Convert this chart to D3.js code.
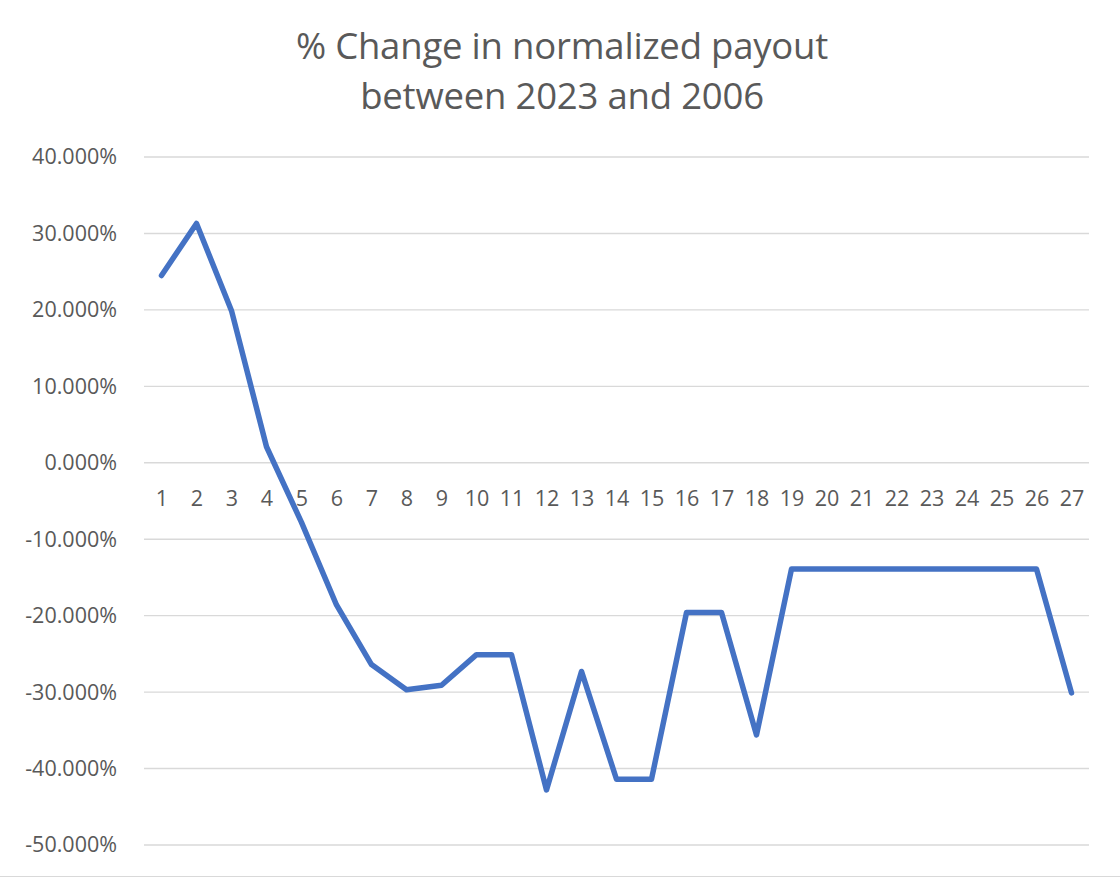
<!DOCTYPE html>
<html>
<head>
<meta charset="utf-8">
<script src="https://cdn.jsdelivr.net/npm/d3@7"></script>
<style>
  body { margin: 0; background: #fff; }
  text { font-family: "Open Sans", "Liberation Sans", sans-serif; fill: #595959; }
</style>
</head>
<body>
<svg id="chart"></svg>
<script>
const width = 1120;
const height = 878;

// data
const categories = d3.range(1, 28).map(String);
const pctChange = [
  24.5, 31.3, 19.9, 2.1, -7.8, -18.6, -26.4, -29.7, -29.1, -25.1,
  -25.1, -42.8, -27.3, -41.4, -41.4, -19.6, -19.6, -35.6, -13.9, -13.9,
  -13.9, -13.9, -13.9, -13.9, -13.9, -13.9, -30.1
];
const yTicks = [40, 30, 20, 10, 0, -10, -20, -30, -40, -50];
const titleLines = ['% Change in normalized payout', 'between 2023 and 2006'];

const plot = { left: 144, right: 1089, top: 157, bottom: 845 };

const svg = d3.select('#chart')
  .attr('width', width)
  .attr('height', height);

const x = d3.scalePoint()
  .domain(categories)
  .range([plot.left, plot.right])
  .padding(0.5);

const y = d3.scaleLinear()
  .domain([-50, 40])
  .range([plot.bottom, plot.top]);

// title
svg.append('g')
  .selectAll('text')
  .data(titleLines)
  .enter().append('text')
  .attr('x', width / 2 + 2)
  .attr('y', (d, i) => 59 + i * 50)
  .attr('text-anchor', 'middle')
  .style('font-size', '36.5px')
  .style('letter-spacing', '-0.2px')
  .text(d => d);

// gridlines
svg.append('g')
  .selectAll('line')
  .data(yTicks)
  .enter().append('line')
  .attr('x1', plot.left)
  .attr('x2', plot.right)
  .attr('y1', d => y(d))
  .attr('y2', d => y(d))
  .style('stroke', '#d9d9d9')
  .style('stroke-width', 1.4);

// y axis labels
const yAxis = d3.axisLeft(y)
  .tickValues(yTicks)
  .tickSize(0)
  .tickPadding(0)
  .tickFormat(d => d.toFixed(3) + '%');

svg.append('g')
  .attr('transform', 'translate(117,0)')
  .call(yAxis)
  .call(g => g.select('.domain').remove())
  .selectAll('text')
  .style('font-size', '21.5px')
  .style('fill', '#595959')
  .style('font-family', '"Open Sans", sans-serif');

// x axis labels sit below the zero line
const xAxis = d3.axisBottom(x).tickSize(0).tickPadding(0);

svg.append('g')
  .attr('transform', 'translate(0,' + y(0) + ')')
  .call(xAxis)
  .call(g => g.select('.domain').remove())
  .selectAll('text')
  .attr('dy', null)
  .attr('y', 43)
  .style('font-size', '21.5px')
  .style('fill', '#595959')
  .style('font-family', '"Open Sans", sans-serif');

// series line
const line = d3.line()
  .x((d, i) => x(categories[i]))
  .y(d => y(d));

svg.append('path')
  .datum(pctChange)
  .attr('d', line)
  .style('fill', 'none')
  .style('stroke', '#4472c4')
  .style('stroke-width', 5.5)
  .style('stroke-linejoin', 'round')
  .style('stroke-linecap', 'round');

// chart border at the bottom edge
svg.append('line')
  .attr('x1', 0)
  .attr('x2', width)
  .attr('y1', height - 1.5)
  .attr('y2', height - 1.5)
  .style('stroke', '#d9d9d9')
  .style('stroke-width', 1);
</script>
</body>
</html>
